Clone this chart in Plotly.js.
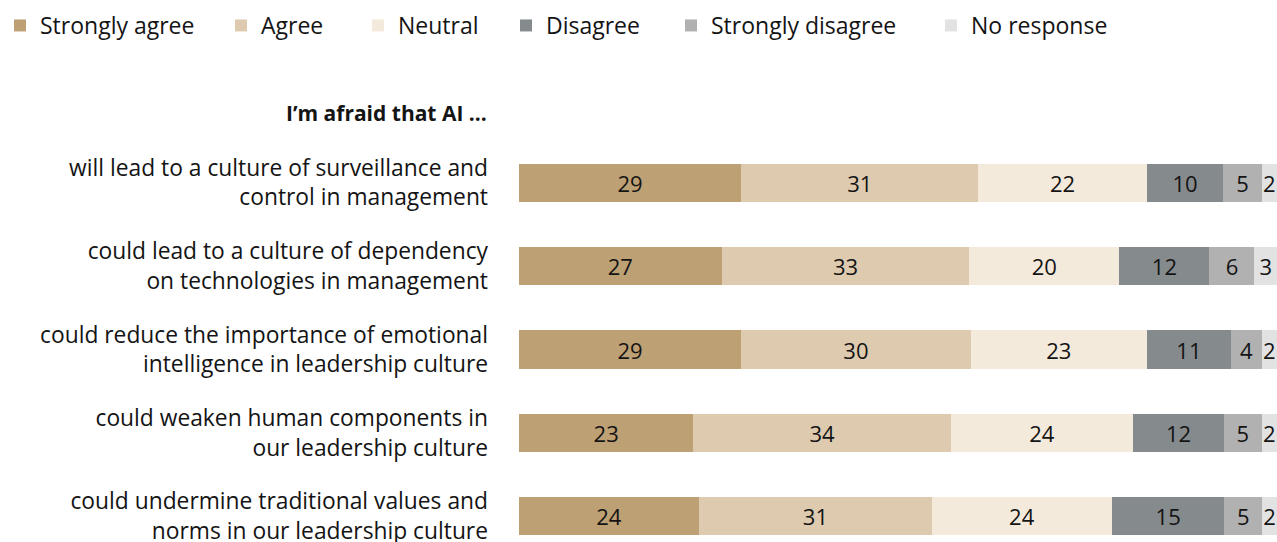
<!DOCTYPE html>
<html>
<head>
<meta charset="utf-8">
<script src="https://cdn.plot.ly/plotly-3.0.1.min.js"></script>
<style>html,body{margin:0;padding:0;background:#fff;overflow:hidden;}#chart{width:1277px;height:580px;}</style>
</head>
<body>
<div id="chart"></div>
<script>
const categories = [
  "will lead to a culture of surveillance and<br>control in management",
  "could lead to a culture of dependency<br>on technologies in management",
  "could reduce the importance of emotional<br>intelligence in leadership culture",
  "could weaken human components in<br>our leadership culture",
  "could undermine traditional values and<br>norms in our leadership culture"
];
const seriesNames = ["Strongly agree", "Agree", "Neutral", "Disagree", "Strongly disagree", "No response"];
const stronglyAgree    = [29, 27, 29, 23, 24];
const agree            = [31, 33, 30, 34, 31];
const neutral          = [22, 20, 23, 24, 24];
const disagree         = [10, 12, 11, 12, 15];
const stronglyDisagree = [5, 6, 4, 5, 5];
const noResponse       = [2, 3, 2, 2, 2];
const colors = ["#BDA074", "#DECBAF", "#F4EADC", "#858A8C", "#B1B1B1", "#E2E2E3"];
const groupTitle = "<b>I’m afraid that AI ...</b>";

const FONT = "'Open Sans', sans-serif";
const W = 1277, H = 580;
const series = [stronglyAgree, agree, neutral, disagree, stronglyDisagree, noResponse];
const ypos = categories.map((c, i) => i);
const legendTextStarts = [34, 261, 398, 546, 711, 971];
const legendIds = ["legend", "legend2", "legend3", "legend4", "legend5", "legend6"];

const traces = series.map((vals, k) => ({
  type: "bar",
  orientation: "h",
  name: seriesNames[k],
  legend: legendIds[k],
  x: vals,
  y: ypos,
  text: vals.map(String),
  texttemplate: "%{text}",
  textposition: "inside",
  insidetextanchor: "middle",
  textangle: 0,
  constraintext: "none",
  cliponaxis: false,
  textfont: {family: FONT, size: 22, color: "#141414"},
  marker: {color: colors[k], line: {width: 0}},
  width: 0.456,
  hoverinfo: "skip"
}));

const layout = {
  width: W,
  height: H,
  margin: {l: 519, r: 0, t: 141, b: 22, pad: 0},
  paper_bgcolor: "#fff",
  plot_bgcolor: "#fff",
  barmode: "stack",
  barnorm: "percent",
  bargap: 0,
  uniformtext: {mode: "show", minsize: 22},
  font: {family: FONT, size: 22, color: "#141414"},
  showlegend: true,
  xaxis: {range: [0, 100], visible: false, fixedrange: true},
  yaxis: {
    range: [4.5, -0.5],
    tickmode: "array",
    tickvals: ypos,
    ticktext: categories,
    showgrid: false, zeroline: false, showline: false,
    ticks: "",
    ticklabelstandoff: 30,
    tickfont: {family: FONT, size: 22.8, color: "#141414"},
    fixedrange: true
  },
  annotations: [{
    text: groupTitle,
    xref: "paper", yref: "paper",
    x: 0, y: 1, xanchor: "right", yanchor: "middle",
    xshift: -30, yshift: 28,
    showarrow: false,
    font: {family: FONT, size: 21, color: "#141414"}
  }]
};

legendIds.forEach((id, k) => {
  layout[id] = {
    orientation: "h",
    xref: "container", yref: "container",
    x: Math.max(0, legendTextStarts[k] - 40) / W, y: 1 - 4 / H,
    xanchor: "left", yanchor: "top",
    font: {family: FONT, size: 23, color: "#141414"},
    bgcolor: "rgba(0,0,0,0)",
    itemclick: false, itemdoubleclick: false
  };
});

Plotly.newPlot("chart", traces, layout, {displayModeBar: false, staticPlot: true});
</script>
</body>
</html>
